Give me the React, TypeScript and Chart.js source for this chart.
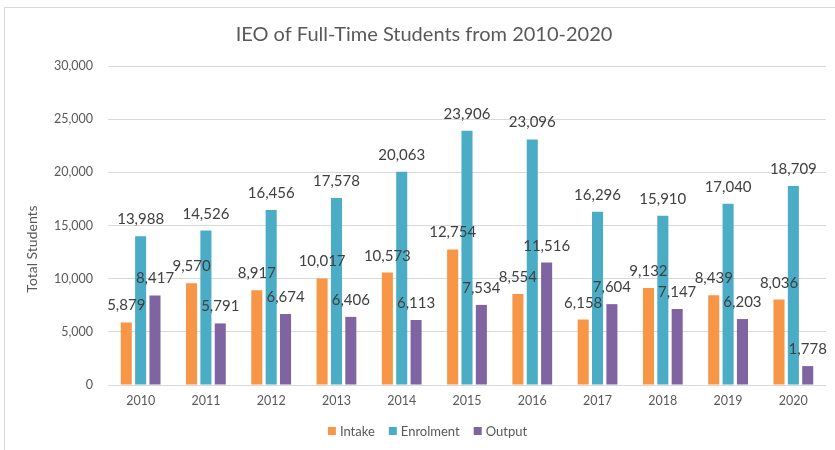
import React, { useEffect, useRef } from "react";
import { Chart, registerables } from "chart.js";

Chart.register(...registerables);

const years = ["2010", "2011", "2012", "2013", "2014", "2015", "2016", "2017", "2018", "2019", "2020"];
const intake = [5879, 9570, 8917, 10017, 10573, 12754, 8554, 6158, 9132, 8439, 8036];
const enrolment = [13988, 14526, 16456, 17578, 20063, 23906, 23096, 16296, 15910, 17040, 18709];
const output = [8417, 5791, 6674, 6406, 6113, 7534, 11516, 7604, 7147, 6203, 1778];
const yTicks = [0, 5000, 10000, 15000, 20000, 25000, 30000];

const FONT = "Lato, 'Open Sans', sans-serif";

const labelPlugin = {
  id: "barLabels",
  afterDatasetsDraw(chart: any) {
    const ctx = chart.ctx;
    ctx.save();
    ctx.font = `15px ${FONT}`;
    ctx.fillStyle = "#404040";
    ctx.textAlign = "center";
    ctx.textBaseline = "alphabetic";
    chart.data.datasets.forEach((ds: any, i: number) => {
      const meta = chart.getDatasetMeta(i);
      meta.data.forEach((el: any, j: number) => {
        const v = ds.data[j] as number;
        ctx.fillText(v.toLocaleString("en-US"), el.x, el.y - 12);
      });
    });
    ctx.restore();
  },
};

const textPlugin = {
  id: "customText",
  afterDraw(chart: any) {
    const ctx = chart.ctx;
    ctx.save();
    // chart title
    ctx.font = `20px ${FONT}`;
    ctx.fillStyle = "#595959";
    ctx.textAlign = "center";
    ctx.textBaseline = "middle";
    ctx.fillText("IEO of Full-Time Students from 2010-2020", 424, 35);
    // y-axis title
    ctx.save();
    ctx.translate(32, 249);
    ctx.rotate(-Math.PI / 2);
    ctx.font = `14px ${FONT}`;
    ctx.fillText("Total Students", 0, 0);
    ctx.restore();
    // legend
    ctx.font = `13px ${FONT}`;
    ctx.textAlign = "left";
    const box = 8;
    const gapBoxText = 4;
    const gapItems = 14;
    const items = chart.data.datasets.map((ds: any) => ({
      label: ds.label as string,
      color: ds.backgroundColor as string,
      w: ctx.measureText(ds.label).width,
    }));
    const total =
      items.reduce((s: number, it: any) => s + box + gapBoxText + it.w, 0) + gapItems * (items.length - 1);
    let x = 427.5 - total / 2;
    const cy = 431;
    items.forEach((it: any) => {
      ctx.fillStyle = it.color;
      ctx.fillRect(x, cy - box / 2, box, box);
      ctx.fillStyle = "#595959";
      ctx.fillText(it.label, x + box + gapBoxText, cy + 0.5);
      x += box + gapBoxText + it.w + gapItems;
    });
    ctx.restore();
  },
};

export default function App() {
  const ref = useRef<HTMLCanvasElement>(null);
  useEffect(() => {
    if (!ref.current) return;
    const chart = new Chart(ref.current, {
      type: "bar",
      data: {
        labels: years,
        datasets: [
          { label: "Intake", data: intake, backgroundColor: "#F79646" },
          { label: "Enrolment", data: enrolment, backgroundColor: "#4BACC6" },
          { label: "Output", data: output, backgroundColor: "#8064A2" },
        ],
      },
      options: {
        animation: false,
        responsive: false,
        maintainAspectRatio: false,
        datasets: { bar: { categoryPercentage: 0.66, barPercentage: 0.77 } },
        layout: { padding: { top: 66, right: 9, bottom: 35, left: 0 } },
        plugins: {
          title: { display: false },
          tooltip: { enabled: false },
          legend: { display: false },
        },
        scales: {
          x: {
            grid: { display: false, drawTicks: false },
            border: { display: false },
            ticks: { color: "#595959", font: { family: FONT, size: 12.5 }, padding: 8 },
            afterFit(scale: any) {
              scale.height = 30;
            },
          },
          y: {
            min: 0,
            max: 30000,
            afterBuildTicks(scale: any) {
              scale.ticks = yTicks.map((v) => ({ value: v }));
            },
            grid: { color: "#D9D9D9", drawTicks: false, lineWidth: 1 },
            border: { display: false },
            ticks: {
              color: "#595959",
              font: { family: FONT, size: 12.5 },
              padding: 15,
              callback: (v: any) => Number(v).toLocaleString("en-US"),
            },
            afterFit(scale: any) {
              scale.width = 108;
            },
          },
        },
      },
      plugins: [labelPlugin, textPlugin],
    } as any);
    return () => chart.destroy();
  }, []);

  return (
    <div style={{ position: "fixed", left: 0, top: 0, width: 835, height: 450, background: "#fff", overflow: "hidden" }}>
      <div
        style={{
          position: "absolute",
          left: 4,
          top: 7,
          width: 860,
          height: 460,
          border: "1px solid #D9D9D9",
          boxSizing: "border-box",
        }}
      />
      <canvas ref={ref} width={835} height={450} style={{ position: "absolute", left: 0, top: 0, display: "block" }} />
    </div>
  );
}
